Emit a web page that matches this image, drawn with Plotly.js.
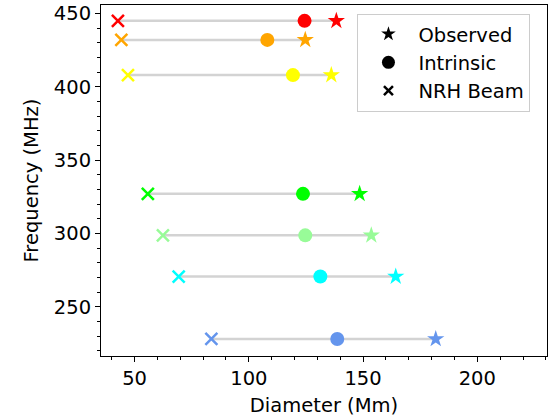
<!DOCTYPE html>
<html>
<head>
<meta charset="utf-8">
<script src="https://cdn.plot.ly/plotly-3.0.1.min.js"></script>
<style>html,body{margin:0;padding:0;background:#fff;}#chart{width:552px;height:418px;}</style>
</head>
<body>
<div id="chart"></div>
<script>
// Data
const frequencies = [445, 432, 408, 327, 298.7, 270.6, 228];
const beamDiameters = [42.7, 44.2, 47.1, 55.8, 62.4, 69.3, 83.6];
const intrinsicDiameters = [124.4, 108.1, 119.3, 123.7, 124.7, 131.3, 138.7];
const observedDiameters = [138.3, 124.7, 136.1, 148.5, 153.6, 164.3, 181.8];
const rowColors = ['#ff0000', '#ffa500', '#ffff00', '#00ff00', '#98fb98', '#00ffff', '#6495ed'];
const legendLabels = ['Observed', 'Intrinsic', 'NRH Beam'];

const traces = [];
frequencies.forEach((f, i) => {
  traces.push({
    x: [beamDiameters[i], observedDiameters[i]], y: [f, f],
    mode: 'lines', line: {color: '#d3d3d3', width: 2.5},
    showlegend: false, hoverinfo: 'skip'
  });
  traces.push({
    x: [beamDiameters[i]], y: [f], mode: 'markers', showlegend: false,
    marker: {symbol: 'x-thin-open', size: 12, color: rowColors[i], line: {color: rowColors[i], width: 2.5}}
  });
  traces.push({
    x: [intrinsicDiameters[i]], y: [f], mode: 'markers', showlegend: false,
    marker: {symbol: 'circle', size: 14, color: rowColors[i]}
  });
  traces.push({
    x: [observedDiameters[i]], y: [f], mode: 'markers', showlegend: false,
    marker: {symbol: 'star', size: 13, color: rowColors[i], line: {width: 0}}
  });
});
// legend entries
traces.push({x: [null], y: [null], mode: 'markers', name: legendLabels[0],
  marker: {symbol: 'star', size: 11, color: 'black', line: {width: 0}}});
traces.push({x: [null], y: [null], mode: 'markers', name: legendLabels[1],
  marker: {symbol: 'circle', size: 13, color: 'black'}});
traces.push({x: [null], y: [null], mode: 'markers', name: legendLabels[2],
  marker: {symbol: 'x-thin-open', size: 9, color: 'black', line: {color: 'black', width: 2.5}}});

const fontFamily = 'DejaVu Sans, sans-serif';
const fs = 19.5;
const layout = {
  width: 552, height: 418,
  margin: {l: 101, r: 5, t: 5, b: 62},
  paper_bgcolor: 'white', plot_bgcolor: 'white',
  font: {family: fontFamily, size: fs, color: 'black'},
  showlegend: true,
  legend: {
    x: 0.575, y: 0.975, xanchor: 'left', yanchor: 'top',
    bordercolor: '#cccccc', borderwidth: 1, bgcolor: 'rgba(255,255,255,0.8)',
    font: {family: fontFamily, size: fs, color: 'black'},
    traceorder: 'normal', itemwidth: 50
  },
  xaxis: {
    range: [35.3, 230.5], tick0: 0, dtick: 50,
    showline: true, mirror: true, linecolor: 'black', linewidth: 1,
    ticks: 'outside', ticklen: 5, tickcolor: 'black', tickwidth: 1,
    showgrid: false, zeroline: false,
    minor: {ticks: 'outside', dtick: 10, tick0: 0, ticklen: 3, tickcolor: 'black', showgrid: false},
    title: {text: 'Diameter (Mm)', standoff: 8, font: {family: fontFamily, size: fs}}
  },
  yaxis: {
    range: [216.4, 455.8], tick0: 0, dtick: 50,
    showline: true, mirror: true, linecolor: 'black', linewidth: 1,
    ticks: 'outside', ticklen: 5, tickcolor: 'black', tickwidth: 1,
    showgrid: false, zeroline: false,
    minor: {ticks: 'outside', dtick: 10, tick0: 0, ticklen: 3, tickcolor: 'black', showgrid: false},
    title: {text: 'Frequency (MHz)', standoff: 10, font: {family: fontFamily, size: fs}}
  }
};
Plotly.newPlot('chart', traces, layout, {staticPlot: true});
</script>
</body>
</html>
